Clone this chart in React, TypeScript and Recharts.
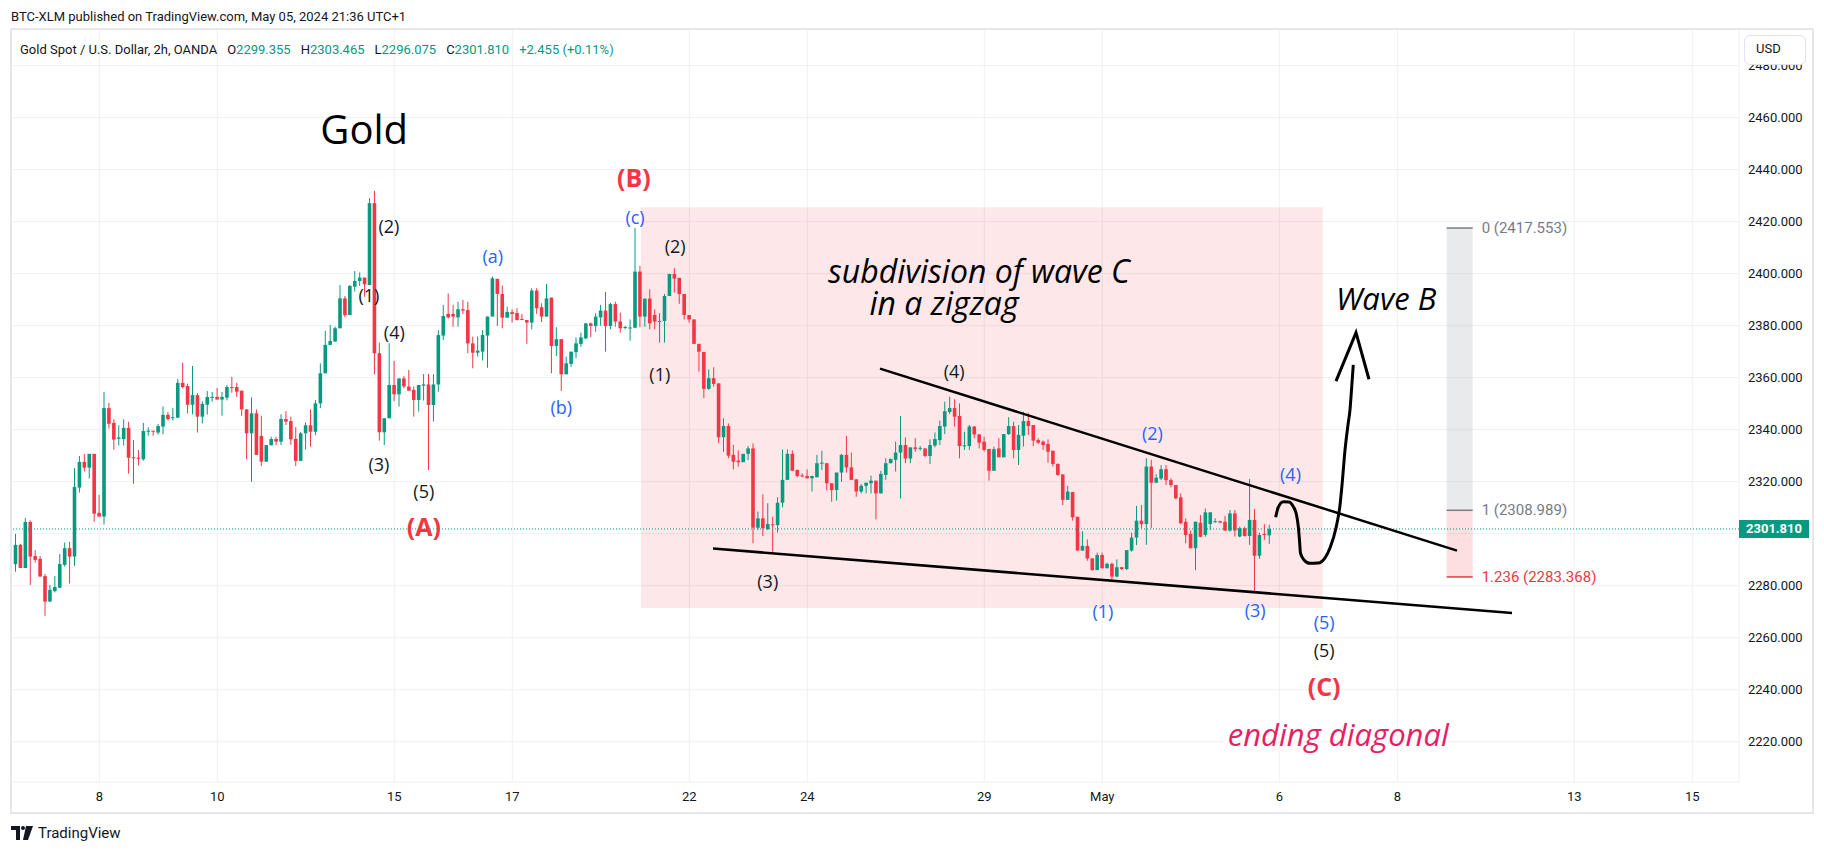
import React from "react";
import {
  ComposedChart,
  Bar,
  Scatter,
  XAxis,
  YAxis,
  CartesianGrid,
  ReferenceArea,
  ReferenceLine,
} from "recharts";

const GREEN = "#089981";
const RED = "#f23645";
const BLUE = "#2962ff";
const INK = "#131722";
const GRID = "#eef0f3";
const UI_FONT = "Roboto, 'Noto Sans', sans-serif";
const NOTE_FONT = "'Open Sans', sans-serif";

// Gold spot 2h candles, [open, high, low, close]
const apr4to5 = [
  [2288.3, 2299.9, 2285.4, 2295.7], [2295.7, 2296.1, 2286.8, 2286.8], [2286.8, 2306.0, 2286.8, 2304.5],
  [2304.5, 2305.1, 2280.3, 2291.2], [2291.4, 2293.7, 2288.9, 2289.9], [2290.3, 2291.4, 2283.5, 2283.5],
  [2283.7, 2284.5, 2268.4, 2273.9], [2273.9, 2280.3, 2273.9, 2278.4], [2277.9, 2283.7, 2277.4, 2279.5],
  [2279.2, 2292.2, 2279.2, 2288.3], [2288.0, 2296.6, 2287.3, 2294.4], [2294.4, 2296.8, 2280.8, 2291.2],
  [2291.2, 2325.3, 2287.6, 2318.0], [2317.7, 2329.9, 2315.8, 2327.6], [2327.6, 2330.7, 2323.9, 2325.4],
  [2325.4, 2330.7, 2321.2, 2330.7], [2330.7, 2330.7, 2304.6, 2307.7],
];

const apr8to12 = [
  [2308.0, 2314.9, 2306.6, 2306.6], [2306.6, 2354.5, 2303.5, 2348.3], [2348.3, 2350.3, 2340.4, 2342.3],
  [2342.6, 2344.0, 2332.3, 2336.2], [2336.5, 2341.7, 2333.9, 2337.0], [2336.4, 2344.0, 2333.9, 2340.7],
  [2340.7, 2343.0, 2323.1, 2329.2], [2329.4, 2336.0, 2319.2, 2329.2], [2329.2, 2332.2, 2326.2, 2329.0],
  [2328.6, 2342.6, 2328.1, 2339.5], [2339.3, 2340.9, 2337.7, 2339.6], [2339.6, 2339.6, 2337.7, 2339.4],
  [2338.9, 2342.2, 2338.1, 2341.4], [2341.2, 2348.9, 2338.2, 2345.7], [2345.7, 2346.8, 2343.5, 2344.1],
  [2344.6, 2348.3, 2343.5, 2344.8], [2344.6, 2359.5, 2344.6, 2358.0], [2358.0, 2365.7, 2355.9, 2356.4],
  [2356.8, 2357.7, 2346.2, 2349.6], [2349.6, 2364.5, 2345.9, 2353.3], [2353.3, 2354.1, 2338.9, 2345.0],
  [2345.0, 2350.9, 2342.4, 2349.9], [2349.6, 2354.9, 2345.8, 2352.6], [2352.4, 2354.5, 2350.8, 2352.6],
  [2352.6, 2356.0, 2351.6, 2351.6], [2351.6, 2354.5, 2345.4, 2352.6], [2352.3, 2357.2, 2351.3, 2356.4],
  [2356.4, 2360.3, 2354.2, 2356.1], [2356.4, 2358.0, 2352.6, 2354.6], [2355.0, 2355.0, 2345.3, 2347.8],
  [2347.8, 2347.8, 2328.6, 2338.6], [2338.6, 2352.4, 2320.0, 2346.3], [2346.3, 2347.8, 2330.3, 2330.3],
  [2337.6, 2345.4, 2326.0, 2327.7], [2327.7, 2334.1, 2327.7, 2334.1], [2334.0, 2337.3, 2334.0, 2336.4],
  [2336.4, 2337.3, 2334.1, 2335.4], [2335.4, 2345.9, 2334.1, 2344.1], [2344.1, 2347.1, 2341.8, 2343.1],
  [2343.3, 2345.0, 2334.1, 2336.3], [2336.5, 2341.0, 2326.0, 2328.0], [2328.0, 2339.2, 2328.0, 2338.6],
  [2338.6, 2342.8, 2332.4, 2341.7], [2341.7, 2347.8, 2333.5, 2339.2], [2339.2, 2351.4, 2337.9, 2350.1],
  [2350.1, 2365.5, 2348.3, 2361.7], [2361.7, 2378.0, 2361.7, 2372.6], [2372.6, 2380.3, 2372.6, 2374.1],
  [2373.9, 2379.6, 2373.9, 2379.0], [2379.0, 2395.6, 2379.0, 2390.5], [2390.5, 2391.4, 2383.2, 2384.1],
  [2384.1, 2395.6, 2384.1, 2395.3], [2395.0, 2401.0, 2393.1, 2397.2], [2397.2, 2400.5, 2395.3, 2398.5],
  [2398.5, 2398.5, 2391.1, 2395.9], [2395.6, 2429.0, 2395.6, 2427.1], [2427.1, 2431.9, 2361.3, 2369.4],
  [2369.4, 2373.5, 2335.8, 2339.0], [2339.0, 2344.4, 2334.1, 2344.4], [2344.4, 2373.2, 2344.4, 2357.2],
];

const apr15to19 = [
  [2357.2, 2366.4, 2351.0, 2353.6], [2353.6, 2359.7, 2348.9, 2359.7], [2359.7, 2360.6, 2355.9, 2356.6],
  [2356.6, 2363.0, 2355.0, 2355.0], [2355.3, 2356.6, 2345.0, 2351.4], [2351.4, 2357.2, 2347.0, 2357.2],
  [2356.9, 2361.4, 2351.2, 2357.4], [2357.4, 2361.4, 2324.5, 2349.5], [2349.5, 2361.3, 2343.1, 2357.4],
  [2357.4, 2378.3, 2354.6, 2376.4], [2376.2, 2388.0, 2374.5, 2383.7], [2384.5, 2392.4, 2382.8, 2383.2],
  [2384.5, 2388.0, 2379.6, 2383.5], [2383.2, 2389.2, 2379.6, 2386.3], [2386.3, 2389.9, 2384.5, 2385.8],
  [2386.0, 2389.2, 2369.4, 2373.2], [2373.2, 2375.8, 2363.6, 2369.6], [2369.6, 2375.8, 2368.1, 2370.4],
  [2370.0, 2378.3, 2366.6, 2376.4], [2376.2, 2383.5, 2363.8, 2383.5], [2383.5, 2398.9, 2383.5, 2398.2],
  [2398.0, 2398.0, 2379.9, 2392.2], [2392.2, 2395.4, 2379.0, 2383.1], [2383.1, 2387.3, 2383.1, 2385.3],
  [2385.2, 2386.3, 2381.2, 2384.5], [2384.9, 2386.7, 2382.0, 2382.2], [2382.6, 2384.5, 2382.2, 2382.4],
  [2382.2, 2382.2, 2373.0, 2381.2], [2381.2, 2394.4, 2378.6, 2393.5], [2393.5, 2394.4, 2384.5, 2386.7],
  [2387.1, 2388.6, 2381.4, 2383.5], [2383.5, 2396.0, 2383.5, 2390.5], [2390.8, 2390.8, 2361.7, 2372.2],
  [2372.2, 2379.4, 2368.3, 2374.8], [2374.8, 2374.8, 2354.9, 2361.3], [2361.3, 2368.1, 2361.3, 2365.5],
  [2365.3, 2370.0, 2364.2, 2370.0], [2369.8, 2375.5, 2367.5, 2373.2], [2373.0, 2377.3, 2371.9, 2375.5],
  [2375.1, 2380.9, 2374.8, 2380.9], [2380.9, 2381.2, 2375.5, 2379.9], [2379.9, 2384.8, 2377.7, 2383.5],
  [2383.2, 2388.0, 2380.0, 2385.8], [2385.8, 2393.0, 2370.0, 2379.9], [2379.9, 2388.8, 2378.6, 2388.3],
  [2388.3, 2389.2, 2379.6, 2381.6], [2381.6, 2385.0, 2377.3, 2379.0], [2379.2, 2379.9, 2378.6, 2379.5],
  [2379.2, 2382.4, 2374.2, 2379.3], [2379.2, 2417.6, 2379.2, 2400.8], [2400.8, 2403.0, 2379.4, 2383.5],
  [2383.5, 2390.4, 2379.6, 2390.4], [2390.4, 2394.0, 2378.6, 2380.9], [2384.1, 2386.3, 2378.6, 2381.6],
  [2381.6, 2384.8, 2373.5, 2381.8], [2381.8, 2392.2, 2373.5, 2391.4], [2391.4, 2399.9, 2391.4, 2399.9],
  [2399.9, 2402.1, 2392.7, 2398.1], [2398.4, 2398.4, 2388.4, 2392.2], [2392.2, 2392.2, 2382.4, 2384.1],
];

const apr22to26 = [
  [2384.1, 2384.1, 2381.2, 2382.4], [2382.4, 2382.4, 2373.0, 2373.0], [2373.0, 2373.0, 2362.3, 2370.0],
  [2369.9, 2369.9, 2352.1, 2355.7], [2355.7, 2363.2, 2355.3, 2359.8], [2359.8, 2364.0, 2356.6, 2357.6],
  [2357.8, 2357.8, 2334.8, 2337.1], [2337.1, 2344.4, 2331.5, 2341.4], [2341.4, 2342.4, 2329.0, 2330.0],
  [2330.3, 2334.1, 2324.7, 2327.7], [2328.1, 2332.0, 2325.8, 2327.5], [2327.5, 2330.7, 2327.5, 2330.7],
  [2330.7, 2333.7, 2328.3, 2332.8], [2332.8, 2334.7, 2296.3, 2302.3], [2302.3, 2308.5, 2301.4, 2305.9],
  [2305.9, 2315.1, 2299.1, 2302.1], [2301.8, 2311.7, 2301.4, 2303.7], [2303.6, 2306.5, 2292.5, 2303.5],
  [2303.3, 2314.0, 2300.4, 2311.9], [2311.9, 2332.4, 2310.1, 2320.7], [2320.7, 2332.4, 2320.7, 2330.7],
  [2330.7, 2332.0, 2324.2, 2324.2], [2324.5, 2324.7, 2321.7, 2322.2], [2322.4, 2323.2, 2321.7, 2322.3],
  [2322.2, 2324.7, 2321.3, 2321.3], [2321.3, 2322.2, 2316.2, 2322.2], [2321.7, 2330.3, 2321.7, 2327.1],
  [2327.0, 2331.9, 2324.5, 2327.3], [2327.1, 2327.1, 2316.6, 2319.4], [2319.4, 2319.4, 2312.3, 2316.8],
  [2316.8, 2323.5, 2312.7, 2323.5], [2323.5, 2330.7, 2320.0, 2330.3], [2330.3, 2337.6, 2323.5, 2325.5],
  [2325.5, 2331.2, 2320.7, 2320.7], [2320.9, 2320.9, 2314.2, 2316.2], [2316.2, 2319.1, 2315.5, 2318.4],
  [2318.4, 2319.6, 2315.5, 2319.6], [2319.4, 2322.3, 2315.5, 2320.4], [2320.4, 2320.4, 2305.5, 2315.5],
  [2315.5, 2324.2, 2315.5, 2323.0], [2322.6, 2329.0, 2320.7, 2327.1], [2327.1, 2329.0, 2327.1, 2328.7],
  [2328.4, 2335.4, 2323.9, 2331.2], [2331.2, 2345.3, 2313.6, 2334.1], [2334.1, 2337.1, 2327.1, 2328.9],
  [2328.9, 2333.2, 2327.1, 2333.2], [2333.2, 2336.7, 2331.5, 2332.6], [2332.8, 2333.7, 2331.9, 2333.0],
  [2332.8, 2332.8, 2329.4, 2329.9], [2329.9, 2336.3, 2326.8, 2334.1], [2333.9, 2338.9, 2333.2, 2336.4],
  [2336.0, 2343.5, 2334.1, 2341.4], [2341.2, 2350.8, 2338.3, 2347.1], [2346.8, 2352.7, 2346.0, 2348.3],
  [2348.3, 2351.7, 2341.2, 2345.0], [2345.3, 2350.1, 2329.0, 2333.7], [2333.8, 2339.2, 2332.2, 2334.0],
  [2333.7, 2341.8, 2332.2, 2341.2], [2341.2, 2341.4, 2336.7, 2338.2], [2338.2, 2338.2, 2332.8, 2335.0],
];

const apr29toMay3 = [
  [2335.4, 2337.3, 2331.6, 2332.2], [2332.6, 2332.6, 2320.4, 2324.2], [2324.2, 2333.5, 2324.2, 2332.5],
  [2332.8, 2336.7, 2329.4, 2329.4], [2329.4, 2338.3, 2329.4, 2338.3], [2338.3, 2344.8, 2338.0, 2341.4],
  [2341.4, 2343.1, 2329.0, 2332.2], [2332.2, 2341.8, 2326.4, 2338.0], [2337.7, 2346.9, 2333.5, 2343.3],
  [2343.3, 2346.5, 2338.0, 2341.4], [2341.8, 2341.8, 2333.7, 2335.8], [2336.0, 2336.7, 2334.5, 2335.0],
  [2335.4, 2335.8, 2332.2, 2334.1], [2334.5, 2336.3, 2327.3, 2331.5], [2331.9, 2331.9, 2325.8, 2326.8],
  [2326.8, 2327.1, 2322.2, 2322.6], [2322.8, 2322.8, 2311.0, 2313.0], [2313.0, 2318.4, 2313.0, 2316.2],
  [2316.0, 2316.0, 2305.0, 2306.3], [2306.5, 2306.5, 2293.5, 2293.5], [2293.5, 2301.0, 2293.5, 2295.3],
  [2295.3, 2297.8, 2289.6, 2290.5], [2290.5, 2290.5, 2285.8, 2286.0], [2286.0, 2292.7, 2286.0, 2291.8],
  [2291.8, 2292.7, 2286.7, 2286.7], [2286.7, 2288.9, 2286.7, 2288.4], [2288.4, 2288.9, 2282.2, 2283.5],
  [2283.5, 2290.1, 2283.2, 2287.1], [2287.1, 2287.3, 2286.0, 2286.4], [2286.4, 2293.7, 2286.0, 2293.7],
  [2293.5, 2300.4, 2293.1, 2298.5], [2298.5, 2310.7, 2295.6, 2305.0], [2305.0, 2311.0, 2302.1, 2303.7],
  [2303.7, 2329.0, 2295.7, 2325.8], [2325.8, 2328.4, 2302.1, 2319.6], [2319.6, 2322.9, 2319.6, 2321.5],
  [2321.2, 2326.4, 2320.6, 2324.8], [2324.8, 2326.4, 2318.7, 2320.6], [2320.6, 2321.3, 2317.8, 2318.7],
  [2318.7, 2318.7, 2313.2, 2313.6], [2314.0, 2315.5, 2303.7, 2304.0], [2304.6, 2305.9, 2296.3, 2299.5],
  [2299.9, 2301.2, 2294.4, 2294.4], [2294.4, 2304.6, 2286.0, 2304.6], [2304.2, 2307.2, 2298.6, 2298.8],
  [2299.5, 2309.7, 2298.8, 2308.2], [2303.7, 2308.2, 2301.4, 2308.2], [2304.6, 2305.9, 2304.2, 2304.8],
  [2304.8, 2305.0, 2304.0, 2304.3], [2304.6, 2306.8, 2301.2, 2301.2], [2301.2, 2309.1, 2300.8, 2307.8],
  [2307.8, 2309.1, 2298.9, 2301.2], [2298.9, 2302.7, 2298.6, 2302.1], [2302.1, 2302.7, 2298.9, 2299.1],
  [2299.1, 2321.0, 2295.7, 2305.3], [2305.3, 2309.5, 2277.7, 2291.5], [2291.5, 2300.4, 2290.3, 2299.5],
  [2299.9, 2303.7, 2297.6, 2299.5], [2299.355, 2303.465, 2296.075, 2301.81],
];

// x runs in trading days, Apr 8 = 0; weekends are skipped as on TradingView
const firstBarDay = -1.42;
const barsPerDay = 12;

const dayTicks = [0, 2, 5, 7, 10, 12, 15, 17, 20, 22, 25, 27];
const dayLabels = ["8", "10", "15", "17", "22", "24", "29", "May", "6", "8", "13", "15"];
const priceTicks = [2220, 2240, 2260, 2280, 2300, 2320, 2340, 2360, 2380, 2400, 2420, 2440, 2460, 2480];

const lastClose = 2301.81;

// elliott wave labels, placed in (trading day, price)
const blackWaves = [
  { x: 4.91, price: 2418.3, text: "(2)" },
  { x: 4.57, price: 2391.8, text: "(1)" },
  { x: 5.0, price: 2377.6, text: "(4)" },
  { x: 4.74, price: 2326.8, text: "(3)" },
  { x: 5.5, price: 2316.4, text: "(5)" },
  { x: 9.76, price: 2410.7, text: "(2)" },
  { x: 9.5, price: 2361.4, text: "(1)" },
  { x: 14.49, price: 2362.6, text: "(4)" },
  { x: 11.33, price: 2281.8, text: "(3)" },
  { x: 20.76, price: 2255.3, text: "(5)" },
];
const blueWaves = [
  { x: 6.67, price: 2406.8, text: "(a)" },
  { x: 7.83, price: 2348.7, text: "(b)" },
  { x: 9.08, price: 2421.8, text: "(c)" },
  { x: 17.85, price: 2338.6, text: "(2)" },
  { x: 20.19, price: 2323.0, text: "(4)" },
  { x: 17.01, price: 2270.3, text: "(1)" },
  { x: 19.59, price: 2270.7, text: "(3)" },
  { x: 20.76, price: 2266.0, text: "(5)" },
];
const redWaves = [
  { x: 9.06, price: 2437.2, text: "(B)" },
  { x: 5.5, price: 2303.0, text: "(A)" },
  { x: 20.76, price: 2241.4, text: "(C)" },
];
// two-line note, left aligned from its first line as TradingView's text tool draws it
const zigzagNote = [{ x: 12.35, price: 2401.6, lines: ["subdivision of wave C", "     in a zigzag"] }];
const waveBNote = [{ x: 21.81, price: 2390.5, text: "Wave B" }];
const pinkNotes = [{ x: 21.0, price: 2223.0, text: "ending diagonal" }];
const titleNote = [{ x: 4.49, price: 2455.9, text: "Gold" }];

// diagonal boundaries
const upperTrend = [{ x: 13.232, y: 2363.5 }, { x: 23.012, y: 2293.5 }];
const lowerTrend = [{ x: 10.402, y: 2294.3 }, { x: 23.944, y: 2269.5 }];

// shaded box around wave C
const boxDays = [9.181, 20.736];
const boxPrices = [2271.4, 2425.5];

// fib extension tool
const fibDays = [22.837, 23.278];
const fibLabelDay = 23.43;
const fibLevels = [
  { ratio: "0", price: 2417.553 },
  { ratio: "1", price: 2308.989 },
  { ratio: "1.236", price: 2283.368 },
];

// hand-drawn squiggle and arrow
const squiggle = [
  { x: 19.939, price: 2306.3 }, { x: 19.978, price: 2309.9 }, { x: 20.068, price: 2312.3 },
  { x: 20.164, price: 2312.2 }, { x: 20.237, price: 2310.4 }, { x: 20.292, price: 2307.2 },
  { x: 20.322, price: 2302.7 }, { x: 20.342, price: 2297.6 }, { x: 20.359, price: 2292.5 },
  { x: 20.419, price: 2289.9 }, { x: 20.52, price: 2288.6 }, { x: 20.656, price: 2288.7 },
  { x: 20.775, price: 2290.7 }, { x: 20.859, price: 2294.5 }, { x: 20.961, price: 2302.2 },
  { x: 21.029, price: 2311.0 }, { x: 21.063, price: 2318.7 }, { x: 21.114, price: 2332.2 },
  { x: 21.164, price: 2341.8 }, { x: 21.198, price: 2347.6 }, { x: 21.232, price: 2358.0 },
  { x: 21.254, price: 2364.9 },
];
const arrowHead = [
  { x: 20.961, price: 2358.7 },
  { x: 21.3, price: 2377.3 },
  { x: 21.52, price: 2359.4 },
];

const candles = [...apr4to5, ...apr8to12, ...apr15to19, ...apr22to26, ...apr29toMay3].map(
  ([open, high, low, close], i) => ({
    x: firstBarDay + i / barsPerDay,
    open,
    high,
    low,
    close,
    range: [low, high],
  })
);

const Candle = (props: any) => {
  const { x, y, width, height, payload } = props;
  if (!payload || x == null) return null;
  const { open, high, low, close } = payload;
  const color = close >= open ? GREEN : RED;
  const top = Math.min(y, y + height);
  const span = Math.abs(height);
  const k = high > low ? span / (high - low) : 0;
  const cx = x + width / 2;
  const bodyTop = top + (high - Math.max(open, close)) * k;
  const bodyH = Math.max(1, Math.abs(open - close) * k);
  return (
    <g>
      <line x1={cx} x2={cx} y1={top} y2={top + Math.max(span, 1)} stroke={color} strokeWidth={1} />
      <rect x={cx - 1.8} y={bodyTop} width={3.6} height={bodyH} fill={color} />
    </g>
  );
};

const textShape = (color: string, size: number, opts: { weight?: number; italic?: boolean; anchor?: string; family?: string } = {}) =>
  (props: any) => (
    <text
      x={props.cx}
      y={props.cy}
      fill={color}
      fontSize={size}
      fontWeight={opts.weight || 400}
      fontStyle={opts.italic ? "italic" : "normal"}
      fontFamily={opts.family || NOTE_FONT}
      textAnchor={opts.anchor || "middle"}
      dominantBaseline="central"
    >
      {props.payload.text}
    </text>
  );

const multiLineNote = (props: any) => (
  <text
    x={props.cx}
    y={props.cy}
    fill="#000"
    fontSize={32}
    fontStyle="italic"
    fontFamily={NOTE_FONT}
    textAnchor="start"
    dominantBaseline="central"
    style={{ whiteSpace: "pre" }}
  >
    {props.payload.lines.map((line: string, i: number) => (
      <tspan key={i} x={props.cx} dy={i === 0 ? 0 : "1.0em"}>
        {line}
      </tspan>
    ))}
  </text>
);

const fibText = (props: any) => (
  <text
    x={props.cx}
    y={props.cy}
    fill={props.payload.ratio === "1.236" ? RED : "#787b86"}
    fontSize={15}
    fontFamily={UI_FONT}
    textAnchor="start"
    dominantBaseline="central"
  >
    {props.payload.text}
  </text>
);

const PriceBadge = (props: any) => {
  const vb = props.viewBox || {};
  const x = (vb.x || 0) + (vb.width || 0);
  const y = vb.y || 0;
  return (
    <g>
      <rect x={x} y={y - 9} width={70} height={18} fill={GREEN} />
      <text x={x + 35} y={y} dy={4.5} textAnchor="middle" fill="#fff" fontSize={13} fontWeight={700} fontFamily={UI_FONT}>
        {lastClose.toFixed(3)}
      </text>
    </g>
  );
};

const noDot = () => <g />;

// the 2300 label sits under the last-price badge, so only its grid line shows
const priceLabel = (v: number) => (Math.abs(v - lastClose) < 10 ? "" : v.toFixed(3));

const App: React.FC = () => {
  const fibLabels = fibLevels.map((l) => ({ x: fibLabelDay, price: l.price, ratio: l.ratio, text: `${l.ratio} (${l.price.toFixed(3)})` }));

  return (
    <div style={{ position: "absolute", left: 0, top: 0, width: 1824, height: 852, background: "#fff", fontFamily: UI_FONT, color: INK }}>
      <ComposedChart width={1824} height={852} data={candles} margin={{ top: 29, right: 12, bottom: 40, left: 11 }}>
        <CartesianGrid stroke={GRID} strokeWidth={1} />
        <XAxis
          type="number"
          dataKey="x"
          domain={[-1.4966, 27.7915]}
          allowDataOverflow
          ticks={dayTicks}
          interval={0}
          tickFormatter={(v: number) => dayLabels[dayTicks.indexOf(v)] ?? ""}
          axisLine={false}
          tickLine={false}
          tickSize={0}
          tickMargin={10}
          height={30}
          tick={{ fill: INK, fontSize: 13, fontFamily: UI_FONT }}
        />
        <YAxis
          orientation="right"
          type="number"
          domain={[2204.5, 2494.1]}
          allowDataOverflow
          ticks={priceTicks}
          interval={0}
          tickFormatter={priceLabel}
          axisLine={false}
          tickLine={false}
          tickSize={0}
          tickMargin={9}
          width={73}
          tick={{ fill: INK, fontSize: 13, fontFamily: UI_FONT }}
        />

        <ReferenceArea x1={boxDays[0]} x2={boxDays[1]} y1={boxPrices[0]} y2={boxPrices[1]} fill={RED} fillOpacity={0.12} stroke="none" />
        <ReferenceArea x1={fibDays[0]} x2={fibDays[1]} y1={fibLevels[1].price} y2={fibLevels[0].price} fill="#787b86" fillOpacity={0.16} stroke="none" />
        <ReferenceArea x1={fibDays[0]} x2={fibDays[1]} y1={fibLevels[2].price} y2={fibLevels[1].price} fill={RED} fillOpacity={0.16} stroke="none" />

        <ReferenceLine y={lastClose} stroke={GREEN} strokeDasharray="1 2" strokeWidth={1} label={<PriceBadge />} />

        <Bar dataKey="range" barSize={4} shape={(p: any) => <Candle {...p} />} isAnimationActive={false} />

        {fibLevels.map((l) => (
          <ReferenceLine
            key={l.ratio}
            segment={[{ x: fibDays[0], y: l.price }, { x: fibDays[1], y: l.price }]}
            stroke={l.ratio === "1.236" ? RED : "#787b86"}
            strokeWidth={1.5}
          />
        ))}
        <ReferenceLine segment={upperTrend} stroke="#000" strokeWidth={2.5} />
        <ReferenceLine segment={lowerTrend} stroke="#000" strokeWidth={2.5} />

        <Scatter data={squiggle} dataKey="price" line={{ stroke: "#000", strokeWidth: 3 }} lineJointType="monotoneX" shape={noDot} isAnimationActive={false} />
        <Scatter data={arrowHead} dataKey="price" line={{ stroke: "#000", strokeWidth: 3 }} lineJointType="linear" shape={noDot} isAnimationActive={false} />

        <Scatter data={fibLabels} dataKey="price" shape={fibText} isAnimationActive={false} />
        <Scatter data={blackWaves} dataKey="price" shape={textShape(INK, 18)} isAnimationActive={false} />
        <Scatter data={blueWaves} dataKey="price" shape={textShape(BLUE, 18)} isAnimationActive={false} />
        <Scatter data={redWaves} dataKey="price" shape={textShape(RED, 25, { weight: 700 })} isAnimationActive={false} />
        <Scatter data={zigzagNote} dataKey="price" shape={multiLineNote} isAnimationActive={false} />
        <Scatter data={waveBNote} dataKey="price" shape={textShape("#000", 31, { italic: true })} isAnimationActive={false} />
        <Scatter data={pinkNotes} dataKey="price" shape={textShape("#e91e63", 31, { italic: true })} isAnimationActive={false} />
        <Scatter data={titleNote} dataKey="price" shape={textShape("#000", 40)} isAnimationActive={false} />
      </ComposedChart>

      {/* chart pane frame */}
      <div style={{ position: "absolute", left: 10, top: 28, width: 1800, height: 782, border: "2px solid #e6e7ec", pointerEvents: "none" }} />

      {/* publish line */}
      <div style={{ position: "absolute", left: 11, top: 8, fontSize: 13, lineHeight: "18px", color: INK }}>
        BTC-XLM published on TradingView.com, May 05, 2024 21:36 UTC+1
      </div>

      {/* symbol legend */}
      <div style={{ position: "absolute", left: 20, top: 41, fontSize: 13, lineHeight: "18px", color: INK, display: "flex", gap: 10, whiteSpace: "nowrap" }}>
        <span>Gold Spot / U.S. Dollar, 2h, OANDA</span>
        <span>O<span style={{ color: GREEN }}>2299.355</span></span>
        <span>H<span style={{ color: GREEN }}>2303.465</span></span>
        <span>L<span style={{ color: GREEN }}>2296.075</span></span>
        <span>C<span style={{ color: GREEN }}>2301.810</span></span>
        <span style={{ color: GREEN }}>+2.455 (+0.11%)</span>
      </div>

      {/* currency box, it hides the top half of the 2480 label as in the original */}
      <div style={{ position: "absolute", left: 1744, top: 35, width: 62, height: 30, border: "1px solid #e0e3eb", borderRadius: 6, background: "#fff", fontSize: 13, lineHeight: "26px", paddingLeft: 11, boxSizing: "border-box", color: INK }}>
        USD
      </div>

      {/* TradingView footer */}
      <div style={{ position: "absolute", left: 11, top: 824, display: "flex", alignItems: "center", gap: 5, fontSize: 15, color: INK }}>
        <svg width={22} height={14} viewBox="0 0 22 14">
          <path d="M0 0 H9 V14 H5 V4 H0 Z" fill={INK} />
          <circle cx={12} cy={2} r={2} fill={INK} />
          <path d="M15 0 H22 L17 14 H12 Z" fill={INK} />
        </svg>
        <span>TradingView</span>
      </div>
    </div>
  );
};

export default App;
